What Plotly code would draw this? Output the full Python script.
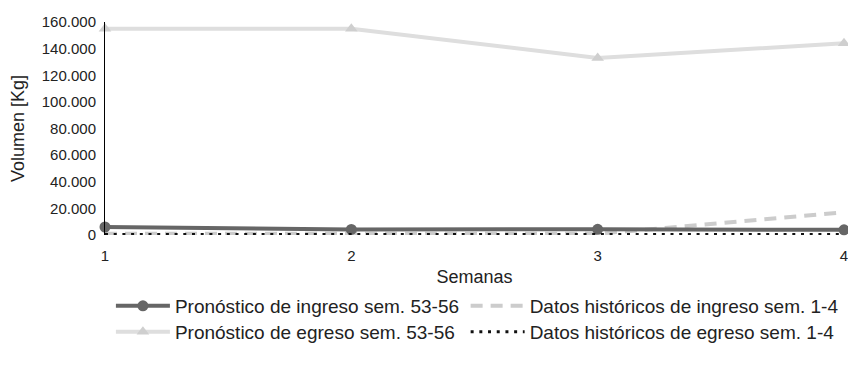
import plotly.graph_objects as go

semanas = [1, 2, 3, 4]
pron_ingreso = [6000, 4200, 4300, 3900]
pron_egreso = [155000, 155000, 133000, 144000]
hist_ingreso = [1000, 800, 900, 17000]
hist_egreso = [300, 300, 300, 300]

font = "Liberation Sans, Arial, sans-serif"
txt = "#222222"

fig = go.Figure()
fig.add_trace(go.Scatter(
    x=semanas, y=pron_egreso, name="Pronóstico de egreso sem. 53-56",
    mode="lines+markers", line=dict(color="#dedede", width=4),
    marker=dict(symbol="triangle-up", size=11, color="#cfcfcf"),
    cliponaxis=False, legend="legend3"))
fig.add_trace(go.Scatter(
    x=semanas, y=hist_ingreso, name="Datos históricos de ingreso sem. 1-4",
    mode="lines", line=dict(color="#cccccc", width=4, dash="12px,8px"),
    cliponaxis=False, legend="legend2"))
fig.add_trace(go.Scatter(
    x=semanas, y=pron_ingreso, name="Pronóstico de ingreso sem. 53-56",
    mode="lines+markers", line=dict(color="#666666", width=4),
    marker=dict(symbol="circle", size=11, color="#666666"),
    cliponaxis=False, legend="legend"))
fig.add_trace(go.Scatter(
    x=semanas, y=hist_egreso, name="Datos históricos de egreso sem. 1-4",
    mode="lines", line=dict(color="#111111", width=3, dash="3px,5.7px"),
    cliponaxis=False, legend="legend4"))

# one legend box per entry, laid out as a 2x2 grid under the axis title
leg_common = dict(
    orientation="v", yref="container", xanchor="left", yanchor="middle",
    itemwidth=54, font=dict(family=font, size=19, color=txt),
    bgcolor="rgba(0,0,0,0)",
)
col_x = [0.008, 0.488]
row_y = [1 - 306 / 371, 1 - 332 / 371]

fig.update_layout(
    width=848, height=371,
    margin=dict(l=105, r=4, t=22, b=136, autoexpand=False),
    paper_bgcolor="white", plot_bgcolor="white",
    separators=",.",
    font=dict(family=font, size=15, color=txt),
    showlegend=True,
    legend=dict(x=col_x[0], y=row_y[0], **leg_common),
    legend2=dict(x=col_x[1], y=row_y[0], **leg_common),
    legend3=dict(x=col_x[0], y=row_y[1], **leg_common),
    legend4=dict(x=col_x[1], y=row_y[1], **leg_common),
)
fig.update_xaxes(
    range=[1, 4], tickvals=semanas, ticktext=[str(s) for s in semanas],
    showgrid=False, zeroline=False, showline=False, ticks="",
    ticklabelstandoff=10, ticklabeloverflow="allow", automargin=False,
    title=dict(text="Semanas", standoff=26),
)
fig.update_yaxes(
    range=[0, 160000], dtick=20000, tickformat=",d",
    showgrid=False, zeroline=False, showline=True, linecolor="#000000",
    linewidth=1, ticks="", ticklabelstandoff=5, automargin=False,
    title=dict(text="Volumen [Kg]", standoff=12),
)

fig.write_html("out.html")
